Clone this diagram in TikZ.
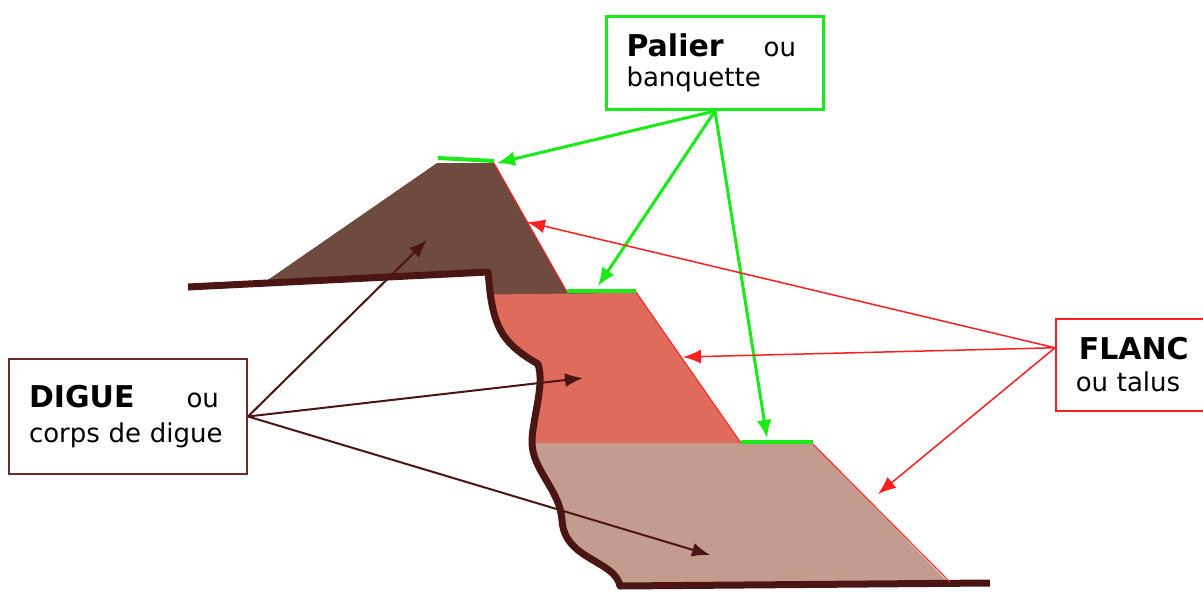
\documentclass[tikz,border=0pt]{standalone}
\usepackage{fontspec}
\setmainfont{DejaVu Sans}
\usetikzlibrary{arrows.meta}

\definecolor{terre}{RGB}{111,74,62}
\definecolor{saumon}{RGB}{223,107,92}
\definecolor{sable}{RGB}{195,156,143}
\definecolor{sol}{RGB}{74,21,18}
\definecolor{cadre}{RGB}{110,42,38}
\definecolor{vert}{RGB}{25,235,25}
\definecolor{rouge}{RGB}{255,30,30}

\newcommand{\gras}[1]{{\bfseries\fontsize{30}{32}\selectfont #1}}

\begin{document}
\begin{tikzpicture}[
	x=1pt,
	y=-1pt,
	box/.style={draw,anchor=north west,align=left,inner xsep=20pt,font=\fontsize{26}{32}\selectfont},
	palarr/.style={vert,line width=3pt,-{Latex[length=18pt,width=15pt]}},
	flarr/.style={rouge,line width=1.5pt,-{Latex[length=18pt,width=14pt]}},
	digarr/.style={sol,line width=2pt,-{Latex[length=18pt,width=14pt]}}
	]
	\useasboundingbox (0,0) rectangle (1203,592);

	% corps de digue, coupe en trois couches
	\begin{scope}
		\clip (488,272) -- (490,292) .. controls (495,330) and (505,345) .. (538,364)
			.. controls (545,385) and (532,420) .. (532,442)
			.. controls (532,470) and (560,490) .. (562,520)
			.. controls (564,560) and (615,560) .. (620,586)
			-- (952,586) -- (813,444) -- (741,443) -- (636,292) -- (567,292)
			-- (494,163) -- (437,163) -- (262,284) -- cycle;
		\fill[terre] (250,150) rectangle (700,296);
		\fill[saumon] (450,295) -- (700,292) -- (800,444) -- (450,444) -- cycle;
		\fill[sable] (450,443) rectangle (1000,600);
	\end{scope}

	% terrain naturel
	\draw[sol,line width=7pt,line join=round] (188,287) -- (488,272) -- (490,292)
		.. controls (495,330) and (505,345) .. (538,364)
		.. controls (545,385) and (532,420) .. (532,442)
		.. controls (532,470) and (560,490) .. (562,520)
		.. controls (564,560) and (615,560) .. (620,586) -- (990,583);

	% flancs et paliers
	\draw[rouge,line width=1pt] (494,163) -- (567,292);
	\draw[rouge,line width=1pt] (636,292) -- (741,443);
	\draw[rouge,line width=1pt] (813,444) -- (950,582);
	\draw[vert,line width=4pt] (438,158) -- (494,161);
	\draw[vert,line width=4pt] (567,291) -- (636,291);
	\draw[vert,line width=4pt] (741,442) -- (813,442);

	% cadres
	\node[box,draw=vert,line width=3pt,text width=177pt,minimum height=93pt] (palier) at (605,15)
		{\gras{Palier}\hspace{40pt}ou\\[-2pt]banquette};
	\node[box,draw=cadre,line width=2pt,text width=198pt,minimum height=115pt] (digue) at (8,358)
		{\gras{DIGUE}\hspace{52pt}ou\\[3pt]corps de digue};
	\node[box,draw=rouge,line width=1.5pt,text width=115pt,minimum height=92pt] (flanc) at (1055,318)
		{\hspace*{3pt}\gras{FLANC}\\ou talus};

	\coordinate (p1) at (497,163);
	\coordinate (p2) at (598,286);
	\coordinate (p3) at (767,438);
	\coordinate (f1) at (527,222);
	\coordinate (f2) at (683,357);
	\coordinate (f3) at (878,494);
	\coordinate (d1) at (427,240);
	\coordinate (d2) at (583,378);
	\coordinate (d3) at (710,555);

	\draw[palarr] (palier.south) -- (p1);
	\draw[palarr] (palier.south) -- (p2);
	\draw[palarr] (palier.south) -- (p3);
	\draw[flarr] ([yshift=17pt]flanc.west) -- (f1);
	\draw[flarr] ([yshift=17pt]flanc.west) -- (f2);
	\draw[flarr] ([yshift=17pt]flanc.west) -- (f3);
	\draw[digarr] (digue.east) -- (d1);
	\draw[digarr] (digue.east) -- (d2);
	\draw[digarr] (digue.east) -- (d3);
\end{tikzpicture}
\end{document}
